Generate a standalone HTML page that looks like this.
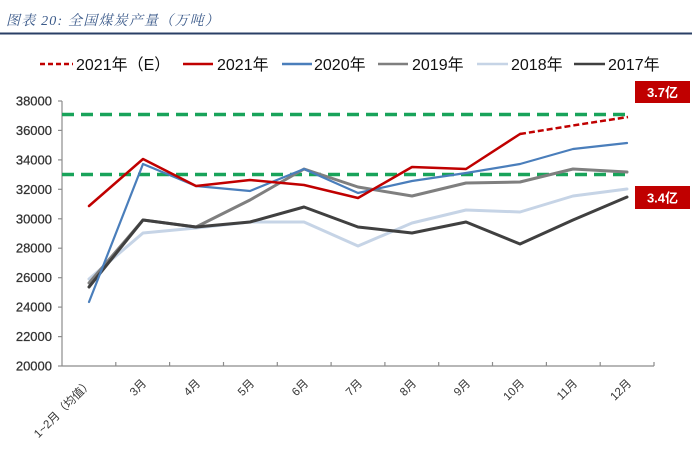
<!DOCTYPE html>
<html><head><meta charset="utf-8">
<style>
html,body{margin:0;padding:0;background:#fff;}
svg{display:block;}
</style></head>
<body>
<svg width="692" height="454" viewBox="0 0 692 454" xmlns="http://www.w3.org/2000/svg" font-family="'Liberation Sans','Noto Sans CJK SC',sans-serif">
<rect width="692" height="454" fill="#fff"/>
<!-- title -->
<text x="6" y="25" font-size="14" font-style="italic" fill="#3b5a8a" letter-spacing="1.2" font-family="'Liberation Serif','Noto Serif CJK SC',serif">图表 20:  全国煤炭产量（万吨）</text>
<line x1="0" y1="33.5" x2="692" y2="33.5" stroke="#2a3f66" stroke-width="2"/>

<!-- legend -->
<g font-size="16" fill="#111">
<line x1="40" y1="64" x2="73" y2="64" stroke="#c00000" stroke-width="2.5" stroke-dasharray="5,3"/>
<text x="76" y="70">2021年（E）</text>
<line x1="183" y1="64" x2="213" y2="64" stroke="#c00000" stroke-width="2.5"/>
<text x="217" y="70">2021年</text>
<line x1="282" y1="64" x2="312" y2="64" stroke="#4a7ebb" stroke-width="2.5"/>
<text x="314" y="70">2020年</text>
<line x1="378" y1="64" x2="408" y2="64" stroke="#7f7f7f" stroke-width="2.5"/>
<text x="412" y="70">2019年</text>
<line x1="477" y1="64" x2="508" y2="64" stroke="#c6d4e6" stroke-width="2.5"/>
<text x="511" y="70">2018年</text>
<line x1="574" y1="64" x2="605" y2="64" stroke="#404040" stroke-width="2.5"/>
<text x="608" y="70">2017年</text>
</g>

<!-- axes -->
<g stroke="#8c8c8c" stroke-width="1.2" fill="none">
<line x1="62" y1="101" x2="62" y2="366"/>
<line x1="62" y1="366" x2="654" y2="366"/>
<line x1="58" y1="101" x2="62" y2="101"/>
<line x1="58" y1="130.4" x2="62" y2="130.4"/>
<line x1="58" y1="159.9" x2="62" y2="159.9"/>
<line x1="58" y1="189.3" x2="62" y2="189.3"/>
<line x1="58" y1="218.8" x2="62" y2="218.8"/>
<line x1="58" y1="248.2" x2="62" y2="248.2"/>
<line x1="58" y1="277.7" x2="62" y2="277.7"/>
<line x1="58" y1="307.1" x2="62" y2="307.1"/>
<line x1="58" y1="336.6" x2="62" y2="336.6"/>
<line x1="58" y1="366" x2="62" y2="366"/>
<line x1="115.8" y1="362" x2="115.8" y2="366"/>
<line x1="169.6" y1="362" x2="169.6" y2="366"/>
<line x1="223.5" y1="362" x2="223.5" y2="366"/>
<line x1="277.3" y1="362" x2="277.3" y2="366"/>
<line x1="331.1" y1="362" x2="331.1" y2="366"/>
<line x1="384.9" y1="362" x2="384.9" y2="366"/>
<line x1="438.7" y1="362" x2="438.7" y2="366"/>
<line x1="492.5" y1="362" x2="492.5" y2="366"/>
<line x1="546.4" y1="362" x2="546.4" y2="366"/>
<line x1="600.2" y1="362" x2="600.2" y2="366"/>
<line x1="654" y1="362" x2="654" y2="366"/>
</g>

<!-- y labels -->
<g font-size="13" fill="#333" text-anchor="end" stroke="#333" stroke-width="0.25">
<text x="52" y="105.5">38000</text>
<text x="52" y="134.9">36000</text>
<text x="52" y="164.4">34000</text>
<text x="52" y="193.8">32000</text>
<text x="52" y="223.3">30000</text>
<text x="52" y="252.7">28000</text>
<text x="52" y="282.2">26000</text>
<text x="52" y="311.6">24000</text>
<text x="52" y="341.1">22000</text>
<text x="52" y="370.5">20000</text>
</g>

<!-- x labels -->
<g font-size="11.5" fill="#333" text-anchor="end">
<text transform="translate(93,384) rotate(-45)">1~2月（均值）</text>
<text transform="translate(147,384) rotate(-45)">3月</text>
<text transform="translate(201,384) rotate(-45)">4月</text>
<text transform="translate(255,384) rotate(-45)">5月</text>
<text transform="translate(309,384) rotate(-45)">6月</text>
<text transform="translate(363,384) rotate(-45)">7月</text>
<text transform="translate(417,384) rotate(-45)">8月</text>
<text transform="translate(471,384) rotate(-45)">9月</text>
<text transform="translate(525,384) rotate(-45)">10月</text>
<text transform="translate(578,384) rotate(-45)">11月</text>
<text transform="translate(632,384) rotate(-45)">12月</text>
</g>

<!-- green reference lines -->
<line x1="62" y1="114.5" x2="631" y2="114.5" stroke="#19a35a" stroke-width="3.5" stroke-dasharray="12,7"/>
<line x1="62" y1="174.5" x2="631" y2="174.5" stroke="#19a35a" stroke-width="3.5" stroke-dasharray="12,7"/>

<!-- series -->
<g fill="none" stroke-linejoin="round" stroke-linecap="round">
<polyline stroke="#c6d4e6" stroke-width="3" points="89,279 143,233 196,228 250,222 304,222 358,246 412,223 466,210 520,212 573,196 627,189"/>
<polyline stroke="#7f7f7f" stroke-width="3" points="89,283 143,220 196,227 250,200 304,169 358,187 412,196 466,183 520,182 573,169 627,172"/>
<polyline stroke="#404040" stroke-width="3" points="89,287 143,220 196,227 250,222 304,207 358,227 412,233 466,222 520,244 573,220 627,197"/>
<polyline stroke="#4a7ebb" stroke-width="2.2" points="89,302 143,164 196,186 250,191 304,169 358,193 412,181 466,173 520,164 573,149 627,143"/>
<polyline stroke="#c00000" stroke-width="2.5" points="89,206 143,159 196,186 250,180 304,185 358,198 412,167 466,169 520,134"/>
<polyline stroke="#c00000" stroke-width="2.5" stroke-linecap="butt" stroke-dasharray="6,3" points="520,134 573,125.5 628,117"/>
</g>

<!-- annotation boxes -->
<rect x="635" y="81" width="55" height="22" fill="#c00000"/>
<text x="662.5" y="97" font-size="13" font-weight="bold" fill="#fff" text-anchor="middle">3.7亿</text>
<rect x="635" y="186" width="55" height="23" fill="#c00000"/>
<text x="662.5" y="202.5" font-size="13" font-weight="bold" fill="#fff" text-anchor="middle">3.4亿</text>
</svg>
</body></html>
